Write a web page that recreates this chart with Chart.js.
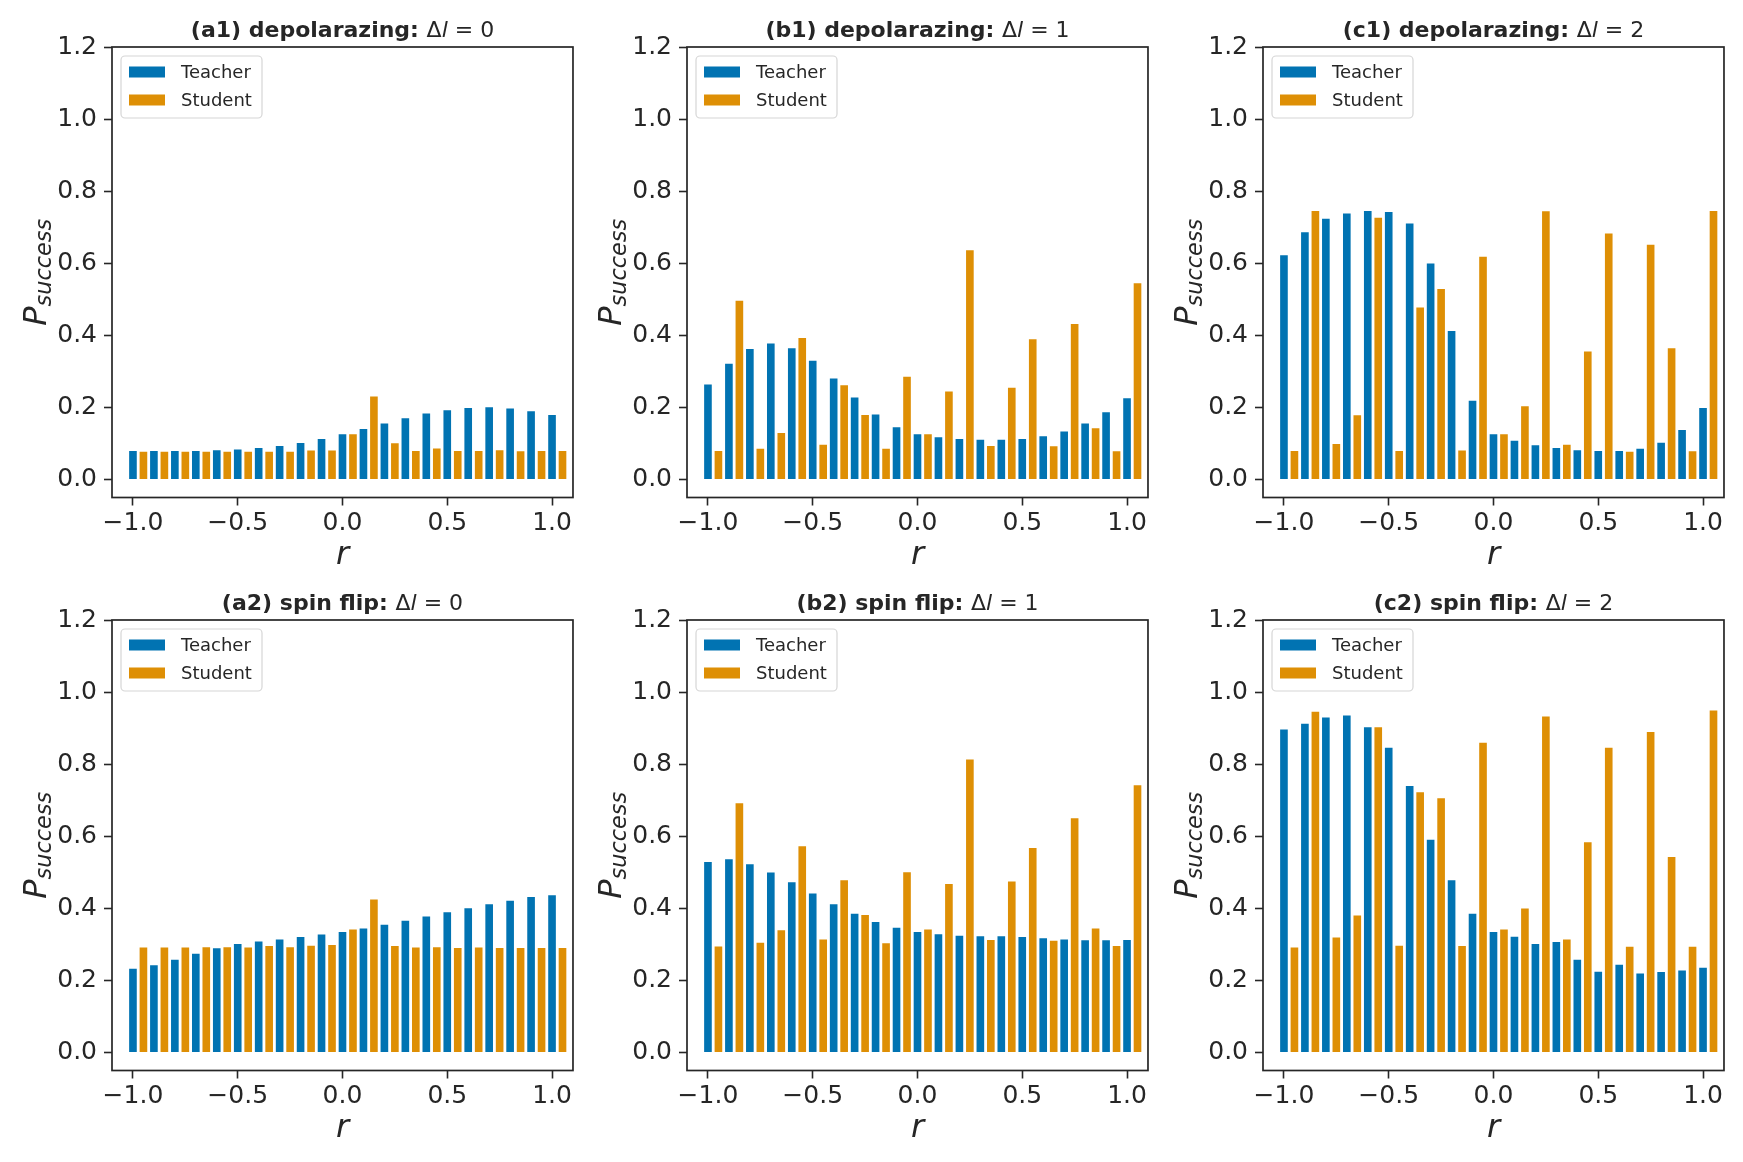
<!DOCTYPE html>
<html>
<head>
<meta charset="utf-8">
<script src="https://cdn.jsdelivr.net/npm/chart.js@4.4.1/dist/chart.umd.min.js"></script>
<style>
body { margin: 0; background: #fff; width: 1743px; height: 1162px; overflow: hidden; }
canvas { position: absolute; }
</style>
</head>
<body>
<canvas id="a1" width="575" height="580" style="left:0px;top:0px"></canvas>
<canvas id="b1" width="575" height="580" style="left:575px;top:0px"></canvas>
<canvas id="c1" width="575" height="580" style="left:1151px;top:0px"></canvas>
<canvas id="a2" width="575" height="580" style="left:0px;top:573px"></canvas>
<canvas id="b2" width="575" height="580" style="left:575px;top:573px"></canvas>
<canvas id="c2" width="575" height="580" style="left:1151px;top:573px"></canvas>
<script>
// r values of the bars
const rTeacher = [-1.0, -0.9, -0.8, -0.7, -0.6, -0.5, -0.4, -0.3, -0.2, -0.1, 0.0, 0.1, 0.2, 0.3, 0.4, 0.5, 0.6, 0.7, 0.8, 0.9, 1.0];
const rStudent = [-0.95, -0.85, -0.75, -0.65, -0.55, -0.45, -0.35, -0.25, -0.15, -0.05, 0.05, 0.15, 0.25, 0.35, 0.45, 0.55, 0.65, 0.75, 0.85, 0.95, 1.05];
const xTicks = [-1.0, -0.5, 0.0, 0.5, 1.0];
const yTicks = [0.0, 0.2, 0.4, 0.6, 0.8, 1.0, 1.2];

// depolarazing
const depolTeacher0 = [0.082, 0.082, 0.082, 0.082, 0.084, 0.086, 0.090, 0.096, 0.104, 0.115, 0.128, 0.143, 0.158, 0.173, 0.186, 0.195, 0.201, 0.203, 0.200, 0.192, 0.182];
const depolStudent0 = [0.080, 0.080, 0.080, 0.080, 0.080, 0.080, 0.080, 0.080, 0.083, 0.083, 0.128, 0.233, 0.103, 0.082, 0.089, 0.082, 0.082, 0.084, 0.081, 0.082, 0.082];
const depolTeacher1 = [0.266, 0.324, 0.365, 0.380, 0.367, 0.332, 0.283, 0.230, 0.183, 0.148, 0.128, 0.120, 0.115, 0.113, 0.113, 0.115, 0.123, 0.136, 0.158, 0.189, 0.228];
const depolStudent1 = [0.082, 0.499, 0.088, 0.132, 0.395, 0.099, 0.264, 0.182, 0.088, 0.288, 0.128, 0.247, 0.639, 0.096, 0.257, 0.392, 0.095, 0.434, 0.145, 0.081, 0.547];
const depolTeacher2 = [0.625, 0.689, 0.726, 0.741, 0.748, 0.745, 0.713, 0.602, 0.415, 0.221, 0.128, 0.110, 0.098, 0.090, 0.084, 0.082, 0.082, 0.088, 0.105, 0.140, 0.201];
const depolStudent2 = [0.082, 0.748, 0.101, 0.181, 0.729, 0.082, 0.480, 0.531, 0.083, 0.621, 0.128, 0.206, 0.747, 0.099, 0.358, 0.685, 0.080, 0.654, 0.367, 0.081, 0.748];

// spin flip
const flipTeacher0 = [0.235, 0.245, 0.260, 0.277, 0.292, 0.304, 0.311, 0.316, 0.323, 0.330, 0.337, 0.347, 0.357, 0.368, 0.380, 0.392, 0.403, 0.414, 0.424, 0.434, 0.439];
const flipStudent0 = [0.294, 0.294, 0.294, 0.295, 0.295, 0.294, 0.298, 0.295, 0.299, 0.301, 0.344, 0.427, 0.298, 0.294, 0.295, 0.293, 0.294, 0.293, 0.293, 0.293, 0.293];
const flipTeacher1 = [0.531, 0.539, 0.525, 0.502, 0.475, 0.444, 0.414, 0.388, 0.365, 0.349, 0.337, 0.331, 0.327, 0.325, 0.325, 0.323, 0.320, 0.316, 0.314, 0.314, 0.315];
const flipStudent1 = [0.297, 0.694, 0.307, 0.342, 0.575, 0.316, 0.481, 0.384, 0.306, 0.503, 0.344, 0.470, 0.816, 0.315, 0.477, 0.570, 0.313, 0.653, 0.347, 0.298, 0.744];
const flipTeacher2 = [0.899, 0.915, 0.932, 0.938, 0.905, 0.848, 0.742, 0.593, 0.481, 0.388, 0.337, 0.324, 0.304, 0.309, 0.260, 0.227, 0.246, 0.222, 0.226, 0.230, 0.238];
const flipStudent2 = [0.294, 0.948, 0.322, 0.383, 0.905, 0.299, 0.725, 0.708, 0.298, 0.862, 0.344, 0.402, 0.935, 0.316, 0.586, 0.848, 0.296, 0.892, 0.545, 0.296, 0.952];

const panelIds = ['a1', 'b1', 'c1', 'a2', 'b2', 'c2'];
const panelTitles = ['(a1) depolarazing:', '(b1) depolarazing:', '(c1) depolarazing:', '(a2) spin flip:', '(b2) spin flip:', '(c2) spin flip:'];
const panelDeltaL = ['0', '1', '2', '0', '1', '2'];
const panelTeacher = [depolTeacher0, depolTeacher1, depolTeacher2, flipTeacher0, flipTeacher1, flipTeacher2];
const panelStudent = [depolStudent0, depolStudent1, depolStudent2, flipStudent0, flipStudent1, flipStudent2];

const INK = '#262626';
const FONT = '"DejaVu Sans", sans-serif';

function fmt(v) {
    const s = Math.abs(v).toFixed(1);
    return (v < -1e-9 ? '\u2212' : '') + s;
}

// draw a run of differently styled text pieces
function drawRuns(ctx, runs, x, y, align) {
    let total = 0;
    runs.forEach(r => { ctx.font = r.font; r.w = ctx.measureText(r.text).width; total += r.w; });
    let cx = align === 'center' ? x - total / 2 : x;
    runs.forEach(r => {
        ctx.font = r.font;
        ctx.fillText(r.text, cx, y + (r.dy || 0));
        cx += r.w;
    });
}

const decorPlugin = {
    id: 'decor',
    afterDatasetsDraw(chart, args, opts) {
        const ctx = chart.ctx;
        const a = chart.chartArea;
        ctx.save();
        // frame
        ctx.strokeStyle = INK;
        ctx.lineWidth = 1.7;
        ctx.strokeRect(a.left, a.top, a.right - a.left, a.bottom - a.top);

        // title
        ctx.fillStyle = INK;
        ctx.textBaseline = 'alphabetic';
        ctx.textAlign = 'left';
        drawRuns(ctx, [
            { text: opts.title + ' ', font: 'bold 22px ' + FONT },
            { text: '\u0394', font: '22px ' + FONT },
            { text: 'l', font: 'italic 22px ' + FONT },
            { text: ' = ' + opts.dl, font: '22px ' + FONT }
        ], (a.left + a.right) / 2, a.top - 10, 'center');

        // x label
        ctx.font = 'italic 32px ' + FONT;
        ctx.textAlign = 'center';
        ctx.fillText('r', (a.left + a.right) / 2, 564);

        // y label
        ctx.save();
        ctx.translate(46, (a.top + a.bottom) / 2);
        ctx.rotate(-Math.PI / 2);
        ctx.textAlign = 'left';
        drawRuns(ctx, [
            { text: 'P', font: 'italic 32px ' + FONT },
            { text: 'success', font: 'italic 22.4px ' + FONT, dy: 5 }
        ], 0, 0, 'center');
        ctx.restore();

        // legend
        const lx = a.left + 9, ly = a.top + 9, lw = 141, lh = 62;
        ctx.beginPath();
        ctx.roundRect(lx, ly, lw, lh, 4);
        ctx.fillStyle = 'rgba(255,255,255,0.8)';
        ctx.fill();
        ctx.strokeStyle = '#d6d6d6';
        ctx.lineWidth = 1.2;
        ctx.stroke();
        ctx.font = '18px ' + FONT;
        ctx.textBaseline = 'middle';
        ctx.textAlign = 'left';
        chart.data.datasets.forEach((ds, i) => {
            const cy = ly + 16 + i * 28;
            ctx.fillStyle = ds.backgroundColor;
            ctx.fillRect(lx + 8, cy - 5.5, 36, 11);
            ctx.fillStyle = INK;
            ctx.fillText(ds.label, lx + 60, cy + 1);
        });
        ctx.restore();
    }
};

panelIds.forEach((id, p) => {
    new Chart(document.getElementById(id).getContext('2d'), {
        type: 'bar',
        data: {
            datasets: [
                {
                    label: 'Teacher',
                    data: rTeacher.map((r, i) => ({ x: r, y: panelTeacher[p][i] })),
                    backgroundColor: '#0173B2',
                    borderColor: 'rgba(255,255,255,0.55)',
                    borderWidth: 1,
                    grouped: false,
                    categoryPercentage: 1,
                    barPercentage: 0.92
                },
                {
                    label: 'Student',
                    data: rStudent.map((r, i) => ({ x: r, y: panelStudent[p][i] })),
                    backgroundColor: '#DE8F05',
                    borderColor: 'rgba(255,255,255,0.55)',
                    borderWidth: 1,
                    grouped: false,
                    categoryPercentage: 1,
                    barPercentage: 0.92
                }
            ]
        },
        options: {
            responsive: false,
            animation: false,
            layout: { padding: { left: 0, top: 47, right: 2, bottom: 2.5 } },
            plugins: {
                legend: { display: false },
                tooltip: { enabled: false },
                decor: { title: panelTitles[p], dl: panelDeltaL[p] }
            },
            scales: {
                x: {
                    type: 'linear',
                    min: -1.1,
                    max: 1.1,
                    offset: false,
                    afterBuildTicks: s => { s.ticks = xTicks.map(v => ({ value: v })); },
                    afterFit: s => { s.height = 80; },
                    grid: { offset: false, drawOnChartArea: false, drawTicks: true, tickLength: 8, tickColor: INK, tickWidth: 1.6 },
                    border: { display: false },
                    ticks: { font: { family: FONT, size: 25 }, color: INK, padding: 3, maxRotation: 0, callback: v => fmt(v) }
                },
                y: {
                    min: -0.05,
                    max: 1.2,
                    afterBuildTicks: s => { s.ticks = yTicks.map(v => ({ value: v })); },
                    afterFit: s => { s.width = 112; },
                    grid: { drawOnChartArea: false, drawTicks: true, tickLength: 8, tickColor: INK, tickWidth: 1.6 },
                    border: { display: false },
                    ticks: { font: { family: FONT, size: 25 }, color: INK, padding: 7, callback: v => fmt(v) }
                }
            }
        },
        plugins: [decorPlugin]
    });
});
</script>
</body>
</html>
